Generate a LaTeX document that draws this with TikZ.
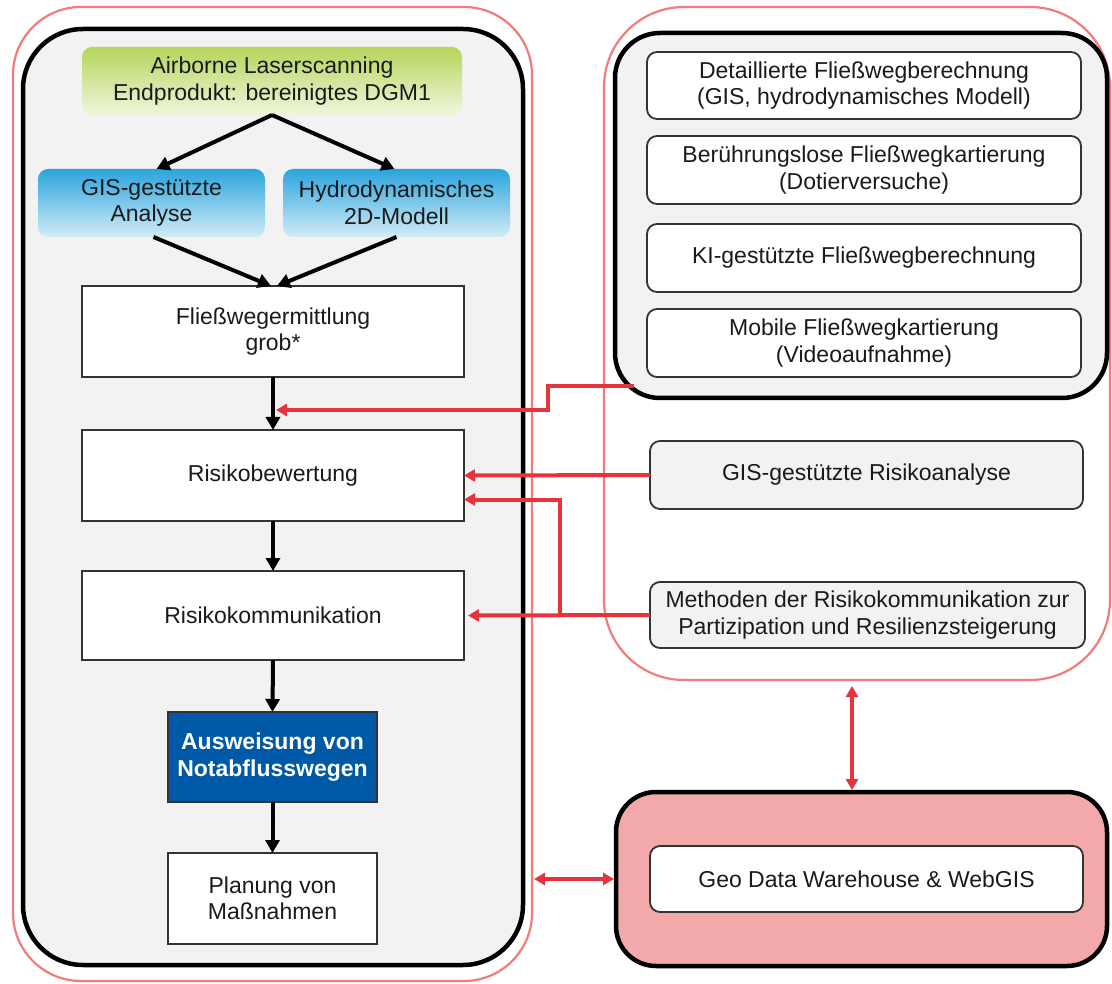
\documentclass[tikz,border=0pt]{standalone}
\usepackage{fontspec}
\setmainfont{Liberation Sans}
\usetikzlibrary{arrows.meta,calc}
\definecolor{pinkline}{HTML}{F07C7C}
\definecolor{redarr}{HTML}{E5343C}
\definecolor{panel}{HTML}{F2F2F2}
\definecolor{boxline}{HTML}{333333}
\definecolor{greentop}{HTML}{B5D55A}
\definecolor{greenbot}{HTML}{F0F6DE}
\definecolor{bluetop}{HTML}{2AA4DD}
\definecolor{bluebot}{HTML}{D2ECF7}
\definecolor{navy}{HTML}{0059A6}
\definecolor{geofill}{HTML}{F3A9A9}
\definecolor{txt}{HTML}{1A1A1A}
\begin{document}
\begin{tikzpicture}[x=1pt,y=-1pt,
  font=\fontsize{23}{26.5}\selectfont,
  every node/.style={inner sep=0pt, outer sep=0pt, align=center, text=txt},
  pinkframe/.style={draw=pinkline, line width=2.2pt},
  blackframe/.style={draw=black, line width=4.5pt, fill=panel},
  whitebox/.style={draw=boxline, line width=1.8pt, fill=white},
  rwhite/.style={draw=boxline, line width=1.8pt, fill=white, rounded corners=10pt},
  rgray/.style={draw=boxline, line width=1.8pt, fill=panel, rounded corners=10pt},
  greenbox/.style={top color=greentop, bottom color=greenbot, rounded corners=10pt},
  bluebox/.style={top color=bluetop, bottom color=bluebot, rounded corners=10pt},
  blk/.style={draw=black, line width=4pt, -{Triangle[length=13pt,width=14pt]}},
  redarrow/.style={draw=redarr, line width=4pt, -{Triangle[length=11pt,width=12pt]}},
  redboth/.style={draw=redarr, line width=4pt, {Triangle[length=11pt,width=12pt]}-{Triangle[length=11pt,width=12pt]}}
]
\useasboundingbox (0,0) rectangle (1112,984);

% frames
\node[pinkframe, rounded corners=68pt, minimum width=519pt, minimum height=974pt] (pinkL) at (272.5,494) {};
\node[blackframe, rounded corners=60pt, minimum width=500pt, minimum height=936pt] (blackL) at (273,497) {};
\node[pinkframe, rounded corners=80pt, minimum width=506pt, minimum height=673pt] (pinkR) at (857,343.5) {};
\node[blackframe, rounded corners=45pt, minimum width=492pt, minimum height=365pt] (blackR) at (861,215.5) {};
\node[draw=black, line width=4.5pt, fill=geofill, rounded corners=40pt, minimum width=491pt, minimum height=174pt] (geoO) at (861.5,879) {};

% left column
\node[greenbox, minimum width=380pt, minimum height=68pt] (green) at (272,81) {Airborne Laserscanning\\Endprodukt: bereinigtes DGM1};
\node[bluebox, minimum width=227pt, minimum height=68pt] (gis) at (151.5,203) {GIS-gestützte\\Analyse};
\node[bluebox, minimum width=227pt, minimum height=68pt] (hydro) at (396.5,203) {Hydrodynamisches\\2D-Modell};
\node[whitebox, minimum width=382pt, minimum height=91pt] (fliess) at (273,331.5) {Fließwegermittlung\\grob*};
\node[whitebox, minimum width=382pt, minimum height=91pt] (rbew) at (273,475.5) {Risikobewertung};
\node[whitebox, minimum width=382pt, minimum height=89pt] (rkom) at (273,615.5) {Risikokommunikation};
\node[draw=boxline, line width=1.8pt, fill=navy, minimum width=209pt, minimum height=90pt, text=white, font=\fontsize{23}{26.5}\selectfont\bfseries] (ausw) at (272.5,757) {Ausweisung von\\Notabflusswegen};
\node[whitebox, minimum width=209pt, minimum height=91pt] (plan) at (272.5,898.5) {Planung von\\Maßnahmen};

% right column
\node[rwhite, minimum width=434pt, minimum height=67pt] (d1) at (864,85.5) {Detaillierte Fließwegberechnung\\(GIS, hydrodynamisches Modell)};
\node[rwhite, minimum width=434pt, minimum height=68pt] (d2) at (864,170) {Berührungslose Fließwegkartierung\\(Dotierversuche)};
\node[rwhite, minimum width=434pt, minimum height=68pt] (d3) at (864,258) {KI-gestützte Fließwegberechnung};
\node[rwhite, minimum width=434pt, minimum height=68pt] (d4) at (864,343) {Mobile Fließwegkartierung\\(Videoaufnahme)};
\node[rgray, minimum width=433pt, minimum height=68pt] (risa) at (866.5,475) {GIS-gestützte Risikoanalyse};
\node[rgray, minimum width=435pt, minimum height=66pt] (meth) at (867.5,615) {Methoden der Risikokommunikation zur\\Partizipation und Resilienzsteigerung};
\node[rwhite, minimum width=433pt, minimum height=66pt] (geoI) at (866.5,879) {Geo Data Warehouse \& WebGIS};

% black arrows
\draw[blk] (green.south) -- ([xshift=5pt]gis.north);
\draw[blk] (green.south) -- ([xshift=-2pt]hydro.north);
\draw[blk] ([xshift=2pt]gis.south) -- ([xshift=-2pt]fliess.north);
\draw[blk] (hydro.south) -- ([xshift=4pt]fliess.north);
\draw[blk] (fliess.south) -- (rbew.north);
\draw[blk] (rbew.south) -- (rkom.north);
\draw[blk] (rkom.south) -- (ausw.north);
\draw[blk] (ausw.south) -- (plan.north);

% red connectors
\coordinate (rs) at (634,386);
\coordinate (m1) at (276,410);
\draw[redarrow] (rs) -- ++(-86,0) |- (m1);
\draw[redarrow] (risa.west) -- (rbew.east);
\draw[redarrow] (meth.west) -- ([xshift=4pt]rkom.east);
\draw[redarrow] ([xshift=-90pt]meth.west) |- ([yshift=-24pt]rbew.east);
\draw[redboth] ([xshift=-5pt,yshift=-6pt]pinkR.south) -- ([xshift=-9.5pt,yshift=2pt]geoO.north);
\draw[redboth] ($(pinkL.east |- geoO.west)+(2,0)$) -- ([xshift=-2pt]geoO.west);
\end{tikzpicture}
\end{document}
